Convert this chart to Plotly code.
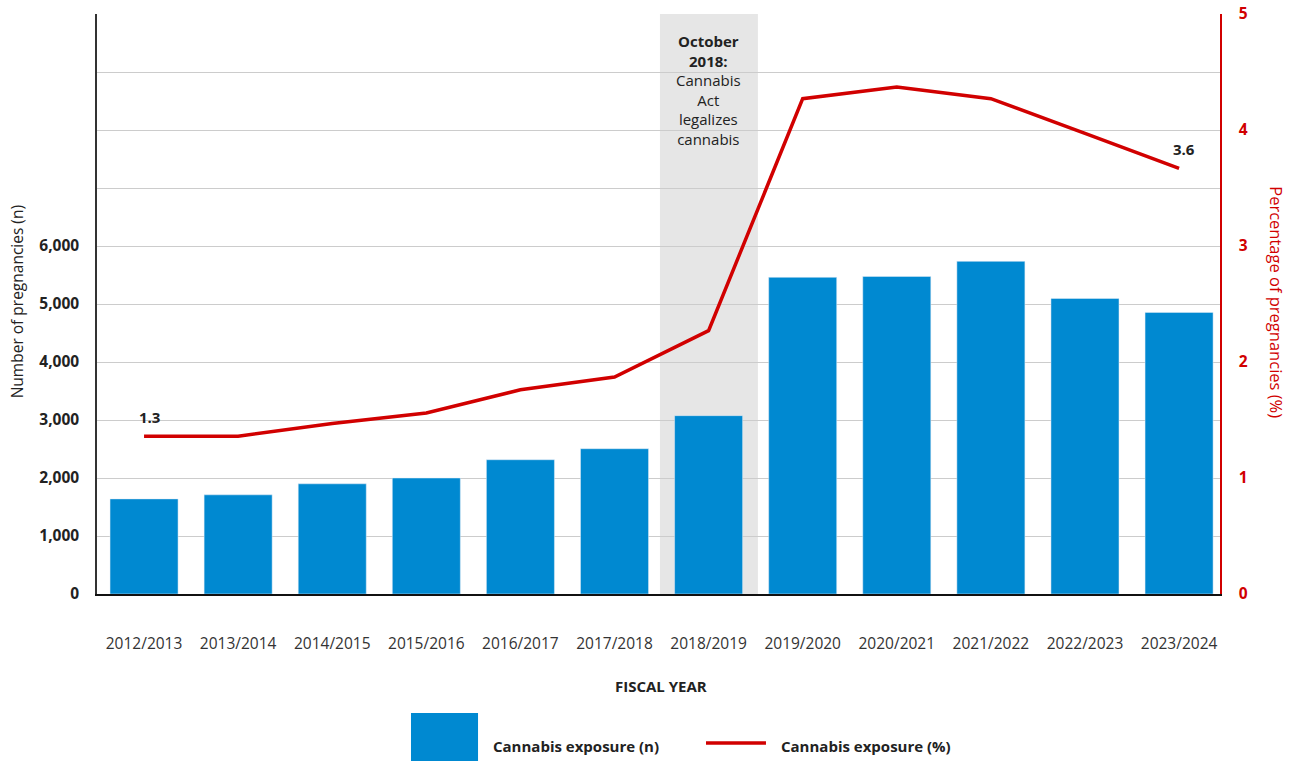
import plotly.graph_objects as go

years = ["2012/2013", "2013/2014", "2014/2015", "2015/2016", "2016/2017", "2017/2018",
         "2018/2019", "2019/2020", "2020/2021", "2021/2022", "2022/2023", "2023/2024"]
counts = [1640, 1710, 1900, 2000, 2315, 2505, 3075, 5460, 5475, 5735, 5095, 4855]
percent = [1.36, 1.36, 1.47, 1.56, 1.76, 1.87, 2.27, 4.27, 4.37, 4.27, 3.97, 3.67]
label_idx = [0, 11]
label_text = ["1.3", "3.6"]
left_ticks = [0, 1000, 2000, 3000, 4000, 5000, 6000, 7000, 8000, 9000, 10000]
left_ticktext = ["0", "1,000", "2,000", "3,000", "4,000", "5,000", "6,000", "", "", "", ""]
right_ticks = [0, 1, 2, 3, 4, 5]

BLUE = "#0089D1"
RED = "#D10000"
DARK = "#222222"
FONT = "Open Sans"

fig = go.Figure()
fig.add_trace(go.Bar(x=years, y=counts, marker_color=BLUE, name="Cannabis exposure (n)",
                     showlegend=False))
fig.add_trace(go.Scatter(x=years, y=percent, yaxis="y2", mode="lines",
                         line=dict(color=RED, width=3.5),
                         name="Cannabis exposure (%)", showlegend=False))

annotations = [
    dict(xref="x", yref="paper", x=6.0, y=0.975, yanchor="top", xanchor="center",
         showarrow=False,
         text="<b>October<br>2018:</b><br>Cannabis<br>Act<br>legalizes<br>cannabis",
         font=dict(size=15, color=DARK), align="center"),
    dict(xref="paper", yref="paper", x=0.502, y=-0.159, xanchor="center", yanchor="middle",
         showarrow=False, text="<b>FISCAL YEAR</b>", font=dict(size=15, color=DARK)),
    dict(xref="paper", yref="paper", x=-0.0712, y=0.503, xanchor="center", yanchor="middle",
         showarrow=False, textangle=-90, text="Number of pregnancies (n)",
         font=dict(size=15.5, color=DARK)),
    dict(xref="paper", yref="paper", x=1.0508, y=0.503, xanchor="center", yanchor="middle",
         showarrow=False, textangle=90, text="Percentage of pregnancies (%)",
         font=dict(size=16.5, color=RED)),
    dict(xref="paper", yref="paper", x=0.3508, y=-0.262, xanchor="left", yanchor="middle",
         showarrow=False, text="<b>Cannabis exposure (n)</b>",
         font=dict(size=15, color=DARK)),
    dict(xref="paper", yref="paper", x=0.6073, y=-0.262, xanchor="left", yanchor="middle",
         showarrow=False, text="<b>Cannabis exposure (%)</b>",
         font=dict(size=15, color=DARK)),
]
for i, t in zip(label_idx, label_text):
    annotations.append(dict(xref="x", yref="y2", x=years[i], y=percent[i], text=f"<b>{t}</b>",
                            showarrow=False, yanchor="bottom", yshift=7, xshift=5,
                            font=dict(size=15, color=DARK)))

fig.update_layout(
    width=1290, height=761,
    margin=dict(l=97, r=70, t=14, b=167),
    plot_bgcolor="white", paper_bgcolor="white",
    bargap=0.277,
    font=dict(family=FONT, color=DARK),
    xaxis=dict(range=[-0.5, 11.435], showline=True, linecolor="#111111", linewidth=2,
               ticks="", tickfont=dict(size=15.5, color="#333333"), ticklabelstandoff=34,
               showgrid=False, automargin=False),
    yaxis=dict(range=[0, 10000], tickvals=left_ticks, ticktext=left_ticktext,
               showgrid=True, gridcolor="#CCCCCC", gridwidth=1,
               showline=True, linecolor="#333333", linewidth=1.5,
               tickfont=dict(size=15.5, color=DARK, weight="bold"),
               ticks="", ticklabelstandoff=13, zeroline=False, automargin=False),
    yaxis2=dict(range=[0, 5], tickvals=right_ticks, overlaying="y", side="right",
                showgrid=False, showline=True, linecolor=RED, linewidth=1.5,
                tickfont=dict(size=15.5, color=RED, weight="bold"), ticks="",
                ticklabelstandoff=14, zeroline=False, automargin=False),
    shapes=[
        dict(type="rect", xref="x", yref="paper", x0=5.483, x1=6.524, y0=0, y1=1,
             fillcolor="#E6E6E6", line=dict(width=0), layer="below"),
        dict(type="rect", xref="paper", yref="paper", x0=0.2796, x1=0.3393,
             y0=-0.29, y1=-0.205, fillcolor=BLUE, line=dict(width=0)),
        dict(type="line", xref="paper", yref="paper", x0=0.5423, x1=0.5957,
             y0=-0.257, y1=-0.257, line=dict(color=RED, width=3.5)),
    ],
    annotations=annotations,
)

fig.write_html("out.html")
